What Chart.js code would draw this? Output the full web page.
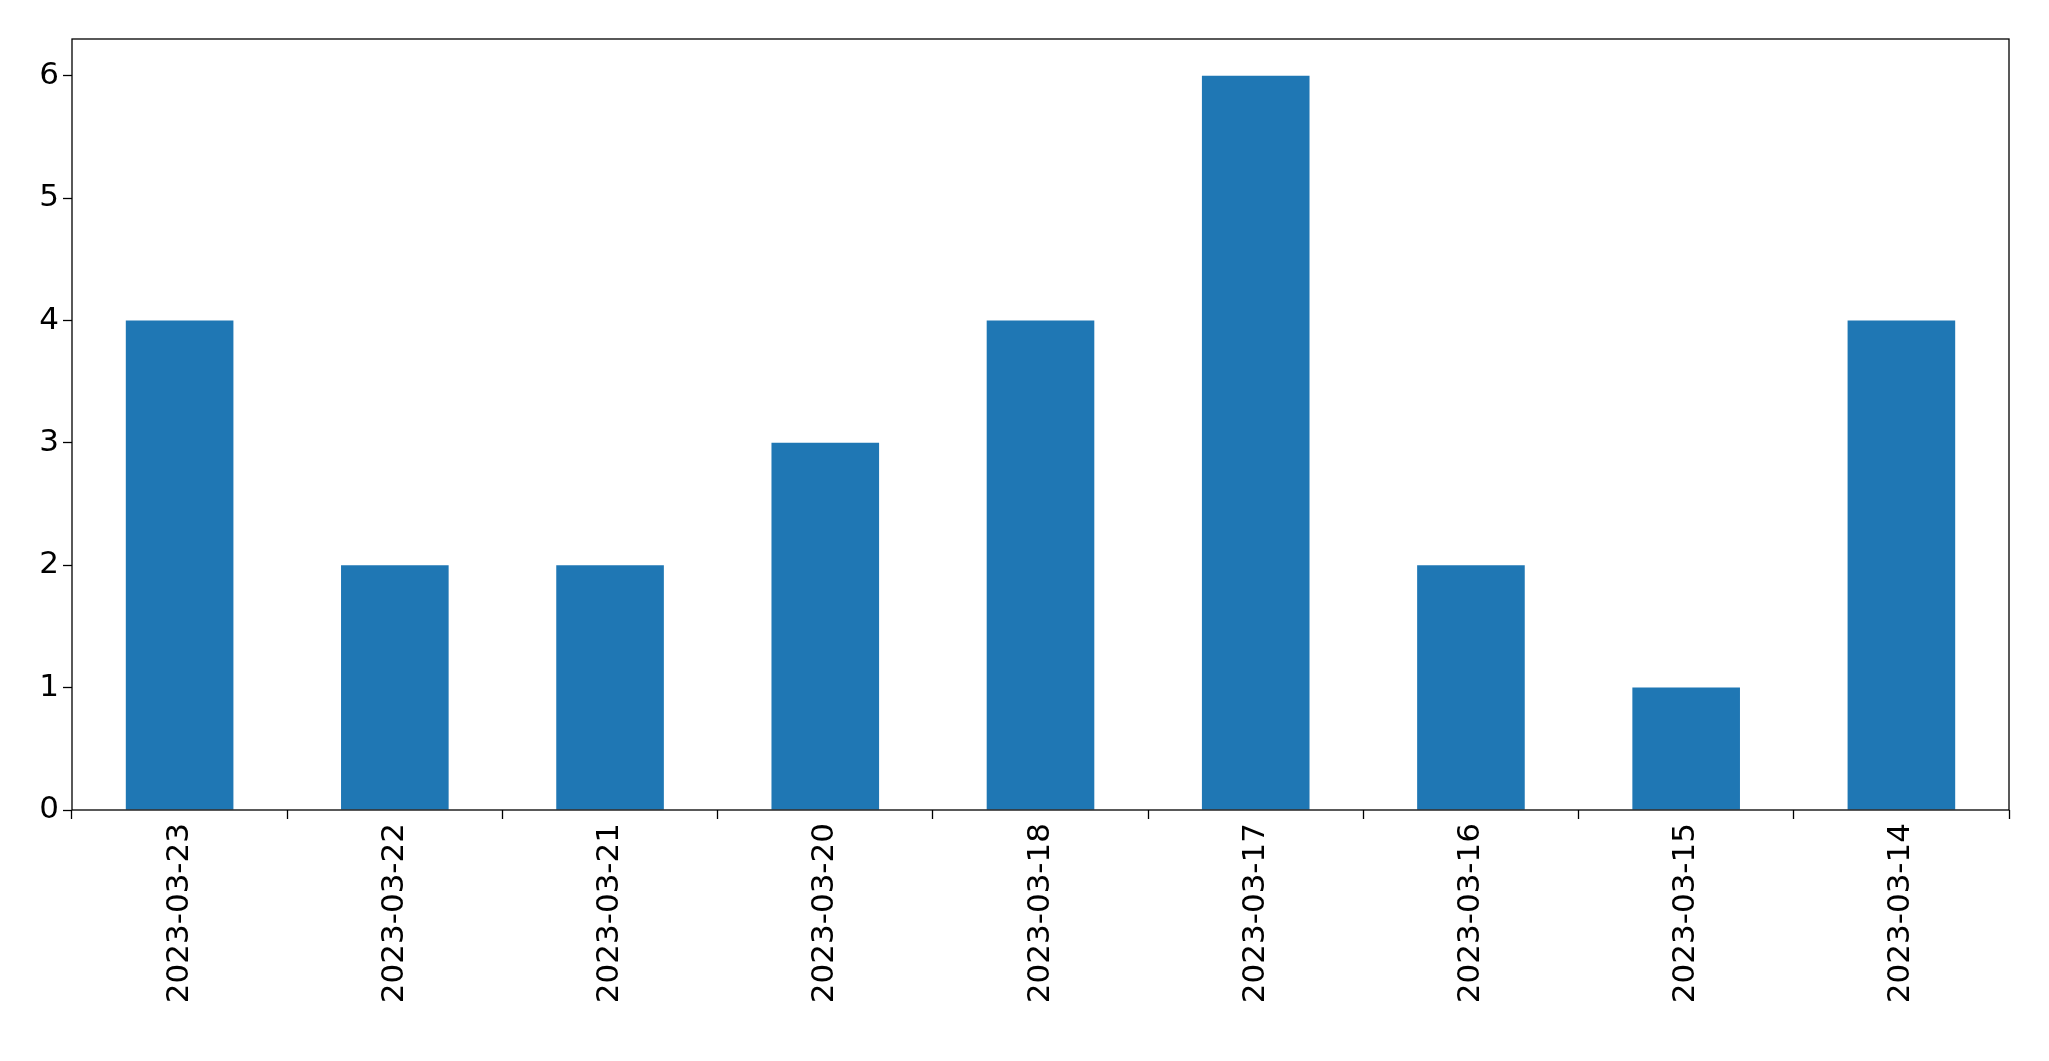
<!DOCTYPE html>
<html>
<head>
<meta charset="utf-8">
<script src="https://cdn.jsdelivr.net/npm/chart.js@4"></script>
<style>
  html, body { margin: 0; padding: 0; background: #fff; }
  canvas { display: block; }
</style>
</head>
<body>
<canvas id="myChart" width="2049" height="1061"></canvas>
<script>
var dates = ['2023-03-23', '2023-03-22', '2023-03-21', '2023-03-20', '2023-03-18',
             '2023-03-17', '2023-03-16', '2023-03-15', '2023-03-14'];
var counts = [4, 2, 2, 3, 4, 6, 2, 1, 4];
var yTicks = [0, 1, 2, 3, 4, 5, 6];

// matplotlib style frame around the plot area
var frame = {
    id: 'frame',
    afterDraw: function(chart) {
        var a = chart.chartArea, c = chart.ctx;
        c.save();
        c.strokeStyle = '#000';
        c.lineWidth = 1.3;
        c.strokeRect(a.left, a.top, a.right - a.left, a.bottom - a.top);
        c.restore();
    }
};

var ctx = document.getElementById('myChart').getContext('2d');
new Chart(ctx, {
    type: 'bar',
    data: {
        labels: dates,
        datasets: [{
            data: counts,
            backgroundColor: '#1f77b4',
            categoryPercentage: 1.0,
            barPercentage: 0.5
        }]
    },
    options: {
        responsive: false,
        animation: false,
        layout: { padding: { top: 39, right: 40, left: 0, bottom: 0 } },
        plugins: { legend: { display: false }, tooltip: { enabled: false } },
        scales: {
            x: {
                grid: { drawOnChartArea: false, color: '#000', tickLength: 9, tickWidth: 1.3 },
                border: { display: false },
                ticks: {
                    color: '#000', maxRotation: 90, minRotation: 90, padding: 4,
                    font: { family: 'DejaVu Sans', size: 31 }
                },
                afterFit: function(axis) { axis.height = 251; }
            },
            y: {
                min: 0,
                max: 6.3,
                grid: { drawOnChartArea: false, color: '#000', tickLength: 9, tickWidth: 1.3 },
                border: { display: false },
                ticks: {
                    color: '#000', stepSize: 1, padding: 4,
                    font: { family: 'DejaVu Sans', size: 31 }
                },
                afterBuildTicks: function(axis) {
                    axis.ticks = yTicks.map(function(v) { return { value: v }; });
                },
                afterFit: function(axis) { axis.width = 72; }
            }
        }
    },
    plugins: [frame]
});
</script>
</body>
</html>
